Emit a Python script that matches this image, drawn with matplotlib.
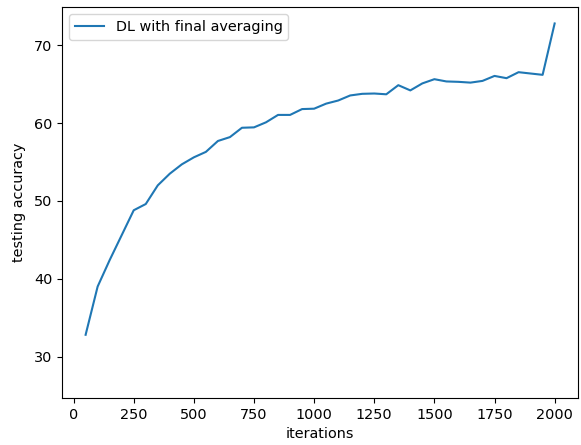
import numpy as np
import matplotlib
matplotlib.use("Agg")
import matplotlib.pyplot as plt

plt.rcParams['font.size'] = 10.4

iterations = np.arange(50, 2001, 50)
accuracy = [32.8, 39.0, 42.4, 45.6, 48.8, 49.6, 52.0, 53.5, 54.7, 55.6,
            56.3, 57.7, 58.2, 59.4, 59.45, 60.1, 61.05, 61.05, 61.8, 61.85,
            62.5, 62.9, 63.55, 63.76, 63.8, 63.7, 64.87, 64.2, 65.1, 65.64,
            65.35, 65.3, 65.2, 65.42, 66.06, 65.77, 66.54, 66.37, 66.2, 72.8]

fig = plt.figure(figsize=(5.81, 4.45), dpi=100)
ax = fig.add_axes([0.107, 0.106, 0.888, 0.878])
ax.plot(iterations, accuracy, label='DL with final averaging')
ax.set_ylim(24.7, 74.9)
ax.set_xlabel('iterations')
ax.set_ylabel('testing accuracy', labelpad=6)
ax.legend(loc='upper left')
fig.savefig('out.png')
